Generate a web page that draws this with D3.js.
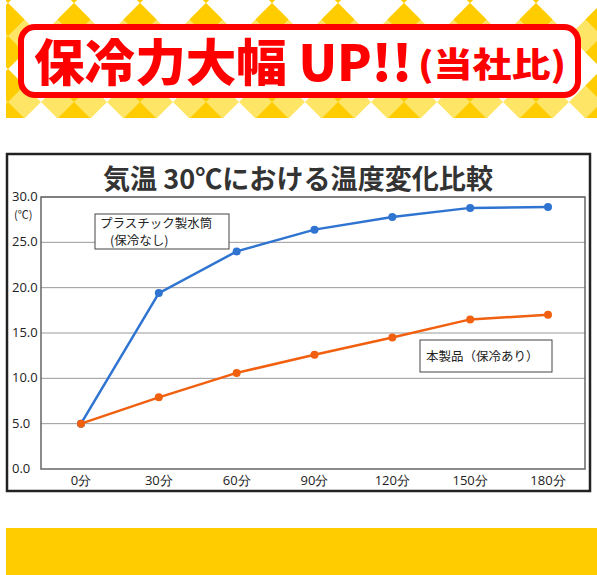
<!DOCTYPE html><html><head><meta charset="utf-8">
<script src="https://cdn.jsdelivr.net/npm/d3@7"></script>
<style>body{margin:0;background:#fff}svg{display:block;font-family:"Noto Sans CJK JP",sans-serif}</style>
</head><body><svg id="c" width="597" height="575"></svg>
<script>
const times = ["0分","30分","60分","90分","120分","150分","180分"];
const plastic = [5.0,19.4,24.0,26.4,27.8,28.8,28.9];
const product = [5.0,7.9,10.6,12.6,14.5,16.5,17.0];
const yTicks = [0,5,10,15,20,25,30];
const svg = d3.select("#c");
const defs = svg.append("defs");
const p = defs.append("pattern").attr("id","chk").attr("patternUnits","userSpaceOnUse").attr("width",66).attr("height",66).attr("x",8).attr("y",-30);
p.append("rect").attr("width",66).attr("height",66).attr("fill","#ffe566");
p.append("path").attr("d","M33,0 L66,33 L33,66 L0,33Z").attr("fill","#fff");
p.append("path").attr("d","M0,0 L16.5,16.5 L0,33Z M66,0 L49.5,16.5 L66,33Z M0,66 L16.5,49.5 L0,33Z M66,66 L49.5,49.5 L66,33Z").attr("fill","#ffcc00");
svg.append("rect").attr("x",6).attr("y",0).attr("width",591).attr("height",118).attr("fill","url(#chk)");
svg.append("rect").attr("x",21).attr("y",27).attr("width",557).attr("height",68).attr("rx",14).attr("fill","#fff").attr("stroke","#ff0000").attr("stroke-width",6);
svg.append("text").attr("x",34).attr("y",81).attr("fill","#ff0000").attr("font-weight",900).attr("font-size",50).attr("textLength",378).attr("lengthAdjust","spacingAndGlyphs").text("保冷力大幅 UP!!");
svg.append("text").attr("x",418).attr("y",77).attr("fill","#ff0000").attr("font-weight",900).attr("font-size",34).attr("textLength",148).attr("lengthAdjust","spacingAndGlyphs").text("(当社比)");
svg.append("rect").attr("x",6).attr("y",528).attr("width",591).attr("height",47).attr("fill","#ffcc00");
svg.append("rect").attr("x",7).attr("y",154).attr("width",583).attr("height",337).attr("fill","#fff").attr("stroke","#222").attr("stroke-width",2.5);
svg.append("text").attr("x",298).attr("y",189).attr("text-anchor","middle").attr("font-weight",700).attr("font-size",27).attr("fill","#333").attr("textLength",390).attr("lengthAdjust","spacingAndGlyphs").text("気温 30℃における温度変化比較");
const L=41,R=585,T=197,B=469;
const y=d3.scaleLinear().domain([0,30]).range([B,T]);
const x=d3.scalePoint().domain(times).range([81,548]);
svg.append("g").selectAll("line").data(yTicks.slice(1)).join("line").attr("x1",L).attr("x2",R).attr("y1",d=>y(d)).attr("y2",d=>y(d)).attr("stroke","#999").attr("stroke-width",1);
svg.append("rect").attr("x",L).attr("y",T).attr("width",R-L).attr("height",B-T).attr("fill","none").attr("stroke","#666").attr("stroke-width",1.5);
svg.append("g").selectAll("text").data(yTicks).join("text").attr("x",12).attr("y",d=>y(d)+4).attr("font-size",13).attr("fill","#222").attr("font-family","Open Sans,sans-serif").text(d=>d.toFixed(1));
svg.append("text").attr("x",14).attr("y",219).attr("font-size",11).attr("fill","#222").text("(℃)");
svg.append("g").selectAll("text").data(times).join("text").attr("x",d=>x(d)).attr("y",485).attr("text-anchor","middle").attr("font-size",13).attr("fill","#222").attr("font-family","Open Sans,sans-serif").text(d=>d);
const line=d3.line().x((d,i)=>x(times[i])).y(d=>y(d));
[[plastic,"#2f74d0"],[product,"#f0600f"]].forEach(([s,c])=>{
 svg.append("path").attr("d",line(s)).attr("fill","none").attr("stroke",c).attr("stroke-width",2.5);
 svg.append("g").selectAll("circle").data(s).join("circle").attr("cx",(d,i)=>x(times[i])).attr("cy",d=>y(d)).attr("r",4).attr("fill",c);
});
svg.append("rect").attr("x",95).attr("y",214).attr("width",134).attr("height",35).attr("fill","#fff").attr("stroke","#444");
svg.append("text").attr("x",100).attr("y",228).attr("font-size",12.5).attr("fill","#222").text("プラスチック製水筒");
svg.append("text").attr("x",110).attr("y",245).attr("font-size",12.5).attr("fill","#222").text("(保冷なし)");
svg.append("rect").attr("x",420).attr("y",340).attr("width",132).attr("height",32).attr("fill","#fff").attr("stroke","#444");
svg.append("text").attr("x",426).attr("y",361).attr("font-size",12.5).attr("fill","#222").text("本製品（保冷あり）");
</script></body></html>
